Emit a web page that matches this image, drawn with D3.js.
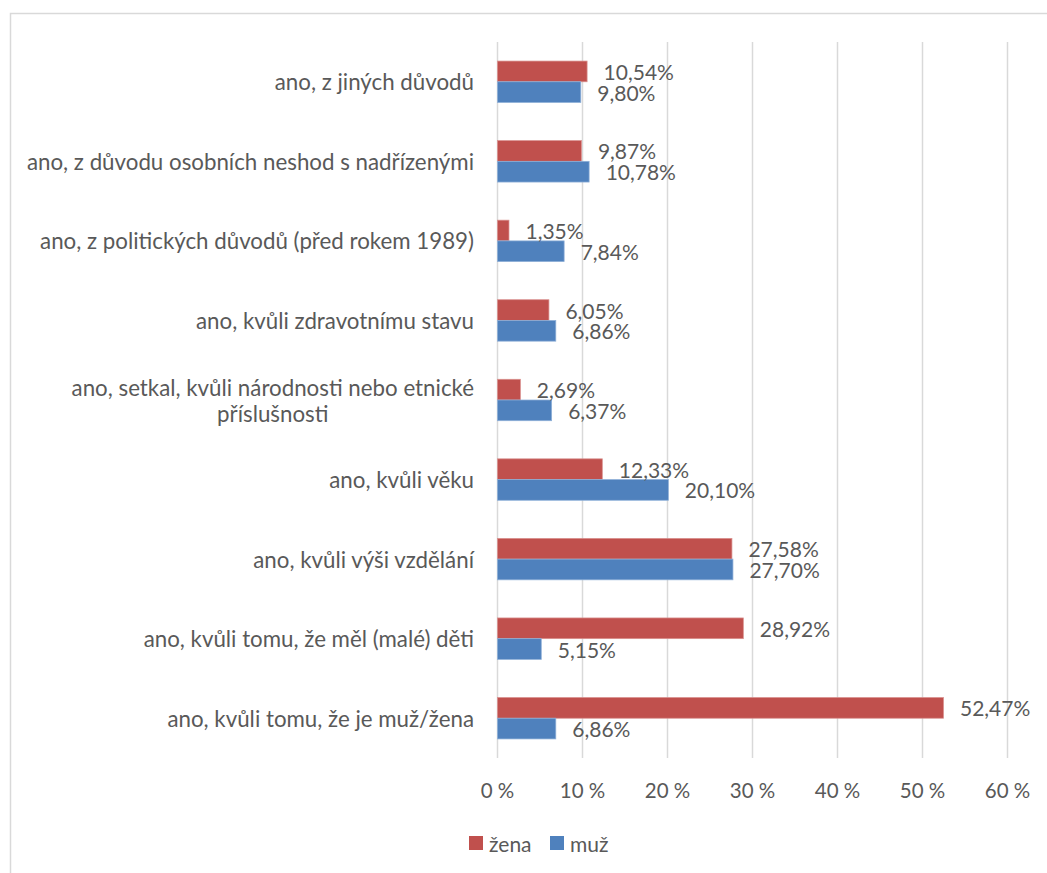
<!DOCTYPE html>
<html>
<head>
<meta charset="utf-8">
<script src="https://cdn.jsdelivr.net/npm/d3@7"></script>
<style>
  html, body { margin: 0; padding: 0; background: #ffffff; }
  svg { display: block; }
  text { font-family: Lato, "Open Sans", sans-serif; fill: #595959; }
</style>
</head>
<body>
<svg id="chart" width="1047" height="873"></svg>
<script>
const categories = [
  "ano, z jiných důvodů",
  "ano, z důvodu osobních neshod s nadřízenými",
  "ano, z politických důvodů (před rokem 1989)",
  "ano, kvůli zdravotnímu stavu",
  "ano, setkal, kvůli národnosti nebo etnické|příslušnosti",
  "ano, kvůli věku",
  "ano, kvůli výši vzdělání",
  "ano, kvůli tomu, že měl (malé) děti",
  "ano, kvůli tomu, že je muž/žena"
];
const seriesNames = ["žena", "muž"];
const zena = [10.54, 9.87, 1.35, 6.05, 2.69, 12.33, 27.58, 28.92, 52.47];
const muz  = [9.80, 10.78, 7.84, 6.86, 6.37, 20.10, 27.70, 5.15, 6.86];
const xTicks = [0, 10, 20, 30, 40, 50, 60];
const colors = { "žena": "#C0504D", "muž": "#4F81BD" };
const strokeColors = { "žena": "#D9908E", "muž": "#8FB0D8" };

const svg = d3.select("#chart");

// outer border
svg.append("rect")
  .attr("x", 10.5).attr("y", 13.5)
  .attr("width", 1100).attr("height", 1000)
  .attr("fill", "none").attr("stroke", "#d9d9d9").attr("stroke-width", 1.5);

const x = d3.scaleLinear().domain([0, 60]).range([497.5, 1007.5]);
const y = d3.scaleBand().domain(categories).range([42, 758]).paddingInner(0).paddingOuter(0);
const ySub = d3.scaleBand().domain(seriesNames).range([0, y.bandwidth()]).paddingInner(0).paddingOuter(0.92);

// gridlines
svg.append("g").selectAll("line").data(xTicks).join("line")
  .attr("x1", d => x(d)).attr("x2", d => x(d))
  .attr("y1", 42).attr("y2", 758)
  .attr("stroke", "#d9d9d9").attr("stroke-width", 1.5);

// x axis tick labels
svg.append("g").selectAll("text").data(xTicks).join("text")
  .attr("x", d => x(d)).attr("y", 790)
  .attr("text-anchor", "middle").attr("dominant-baseline", "central")
  .style("font-size", "20.5px")
  .text(d => d + " %");

const rows = categories.map((c, i) => ({ cat: c, vals: [
  { s: "žena", v: zena[i] }, { s: "muž", v: muz[i] } ] }));

const fmt = v => v.toFixed(2).replace(".", ",") + "%";

const g = svg.append("g").selectAll("g").data(rows).join("g")
  .attr("transform", d => `translate(0,${y(d.cat)})`);

g.selectAll("rect").data(d => d.vals).join("rect")
  .attr("x", x(0))
  .attr("y", d => ySub(d.s))
  .attr("width", d => x(d.v) - x(0))
  .attr("height", ySub.bandwidth())
  .attr("fill", d => colors[d.s])
  .attr("stroke", d => strokeColors[d.s]).attr("stroke-width", 0.75);

g.selectAll("text.val").data(d => d.vals).join("text")
  .attr("class", "val")
  .attr("x", d => x(d.v) + 16.5)
  .attr("y", d => ySub(d.s) + ySub.bandwidth() / 2)
  .attr("dominant-baseline", "central")
  .style("font-size", "21px")
  .text(d => fmt(d.v));

// category labels
const cl = svg.append("g").selectAll("text").data(categories).join("text")
  .attr("text-anchor", "end")
  .style("font-size", "22.3px")
  .attr("transform", d => `translate(474,${y(d) + y.bandwidth() / 2})`);

cl.each(function(d) {
  const lines = d.split("|");
  const t = d3.select(this);
  if (lines.length === 1) {
    t.append("tspan").attr("x", 0).attr("y", 0).attr("dominant-baseline", "central").text(lines[0]);
  } else {
    const lh = 26;
    const first = t.append("tspan").attr("x", 0).attr("y", -lh / 2).attr("dominant-baseline", "central").text(lines[0]);
    const w = first.node().getComputedTextLength();
    t.append("tspan").attr("x", -w / 2).attr("y", lh / 2).attr("dominant-baseline", "central")
      .style("text-anchor", "middle").text(lines[1]);
  }
});

// legend
const legend = svg.append("g");
const legItems = [{ s: "žena", x: 469 }, { s: "muž", x: 550 }];
legItems.forEach(it => {
  legend.append("rect").attr("x", it.x).attr("y", 836).attr("width", 14).attr("height", 14)
    .attr("fill", colors[it.s]);
  legend.append("text").attr("x", it.x + 20).attr("y", 843)
    .attr("dominant-baseline", "central").style("font-size", "21px").text(it.s);
});
</script>
</body>
</html>
